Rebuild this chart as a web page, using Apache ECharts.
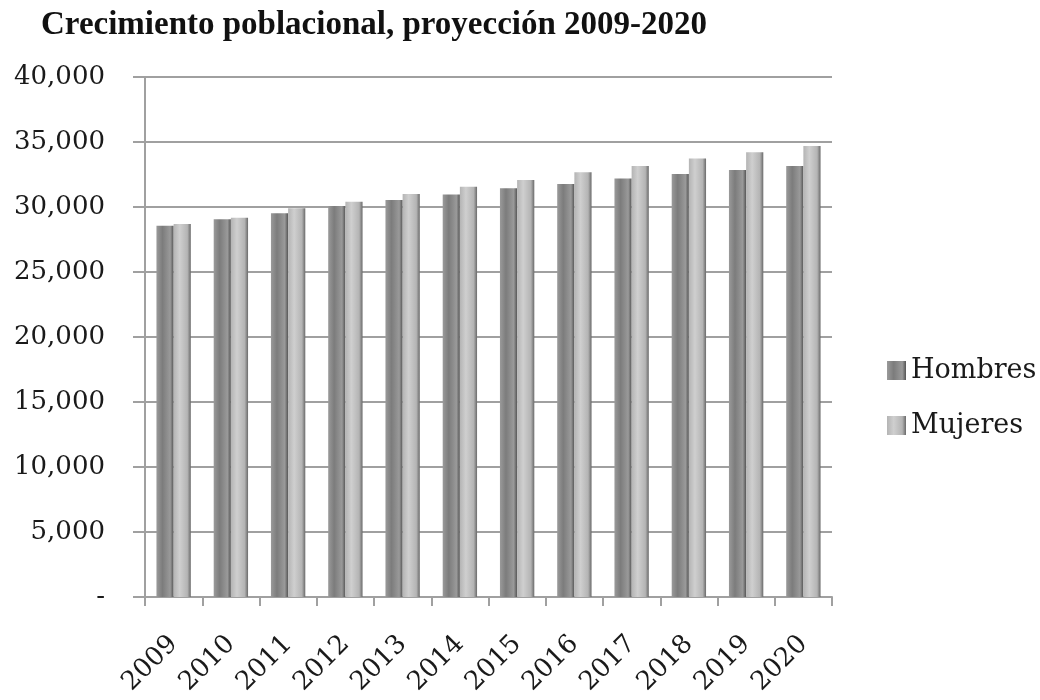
<!DOCTYPE html>
<html>
<head>
<meta charset="utf-8">
<script src="https://cdn.jsdelivr.net/npm/echarts@6/dist/echarts.min.js"></script>
<style>
  html, body { margin: 0; padding: 0; background: #fff; }
  #chart { width: 1040px; height: 700px; }
</style>
</head>
<body>
<div id="chart"></div>
<script>
// Projected population by sex, 2009-2020
const years = ['2009', '2010', '2011', '2012', '2013', '2014', '2015', '2016', '2017', '2018', '2019', '2020'];
const hombres = [28560, 29050, 29510, 30080, 30540, 30970, 31440, 31770, 32200, 32540, 32850, 33150];
const mujeres = [28690, 29180, 29900, 30410, 31000, 31560, 32080, 32670, 33150, 33740, 34210, 34690];
const yTicks = { min: 0, max: 40000, interval: 5000 };

const serif = '"DejaVu Serif", serif';

function cylinder(edge, mid, dark) {
  return new echarts.graphic.LinearGradient(0, 0, 1, 0, [
    { offset: 0, color: edge },
    { offset: 0.35, color: mid },
    { offset: 0.8, color: edge },
    { offset: 1, color: dark }
  ]);
}

const chart = echarts.init(document.getElementById('chart'), null, { renderer: 'canvas' });
chart.setOption({
  animation: false,
  backgroundColor: '#ffffff',
  title: {
    text: 'Crecimiento poblacional, proyección 2009-2020',
    left: 36,
    top: 4,
    textStyle: { fontFamily: '"Liberation Serif", serif', fontWeight: 'bold', fontSize: 33, color: '#111' }
  },
  legend: {
    orient: 'vertical',
    left: 882,
    top: 352,
    itemWidth: 19,
    itemHeight: 19,
    itemGap: 28,
    icon: 'rect',
    textStyle: { fontFamily: serif, fontSize: 27, color: '#1a1a1a', padding: [0, 0, 0, 0] },
    data: ['Hombres', 'Mujeres']
  },
  grid: { left: 145, right: 208, top: 77, bottom: 103, containLabel: false },
  xAxis: {
    type: 'category',
    data: years,
    axisLine: { lineStyle: { color: '#a0a0a0', width: 2 } },
    axisTick: { show: true, length: 9, lineStyle: { color: '#a0a0a0', width: 2 } },
    axisLabel: { rotate: 45, margin: 43, fontFamily: serif, fontSize: 26, color: '#1a1a1a' },
    splitLine: { show: false }
  },
  yAxis: {
    type: 'value',
    min: yTicks.min,
    max: yTicks.max,
    interval: yTicks.interval,
    axisLine: { show: true, lineStyle: { color: '#a0a0a0', width: 2 } },
    axisTick: { show: true, length: 12, lineStyle: { color: '#a0a0a0', width: 2 } },
    splitLine: { lineStyle: { color: '#a0a0a0', width: 2 } },
    axisLabel: {
      margin: 40,
      fontFamily: serif,
      fontSize: 26,
      color: '#1a1a1a',
      formatter: v => v === 0 ? '-' : v.toLocaleString('en-US')
    }
  },
  series: [
    {
      name: 'Hombres',
      type: 'bar',
      data: hombres,
      barGap: '0%',
      barCategoryGap: '40%',
      itemStyle: { color: cylinder('#9a9a9a', '#7c7c7c', '#555') }
    },
    {
      name: 'Mujeres',
      type: 'bar',
      data: mujeres,
      itemStyle: { color: cylinder('#b4b4b4', '#cfcfcf', '#6a6a6a') }
    }
  ]
});
</script>
</body>
</html>
